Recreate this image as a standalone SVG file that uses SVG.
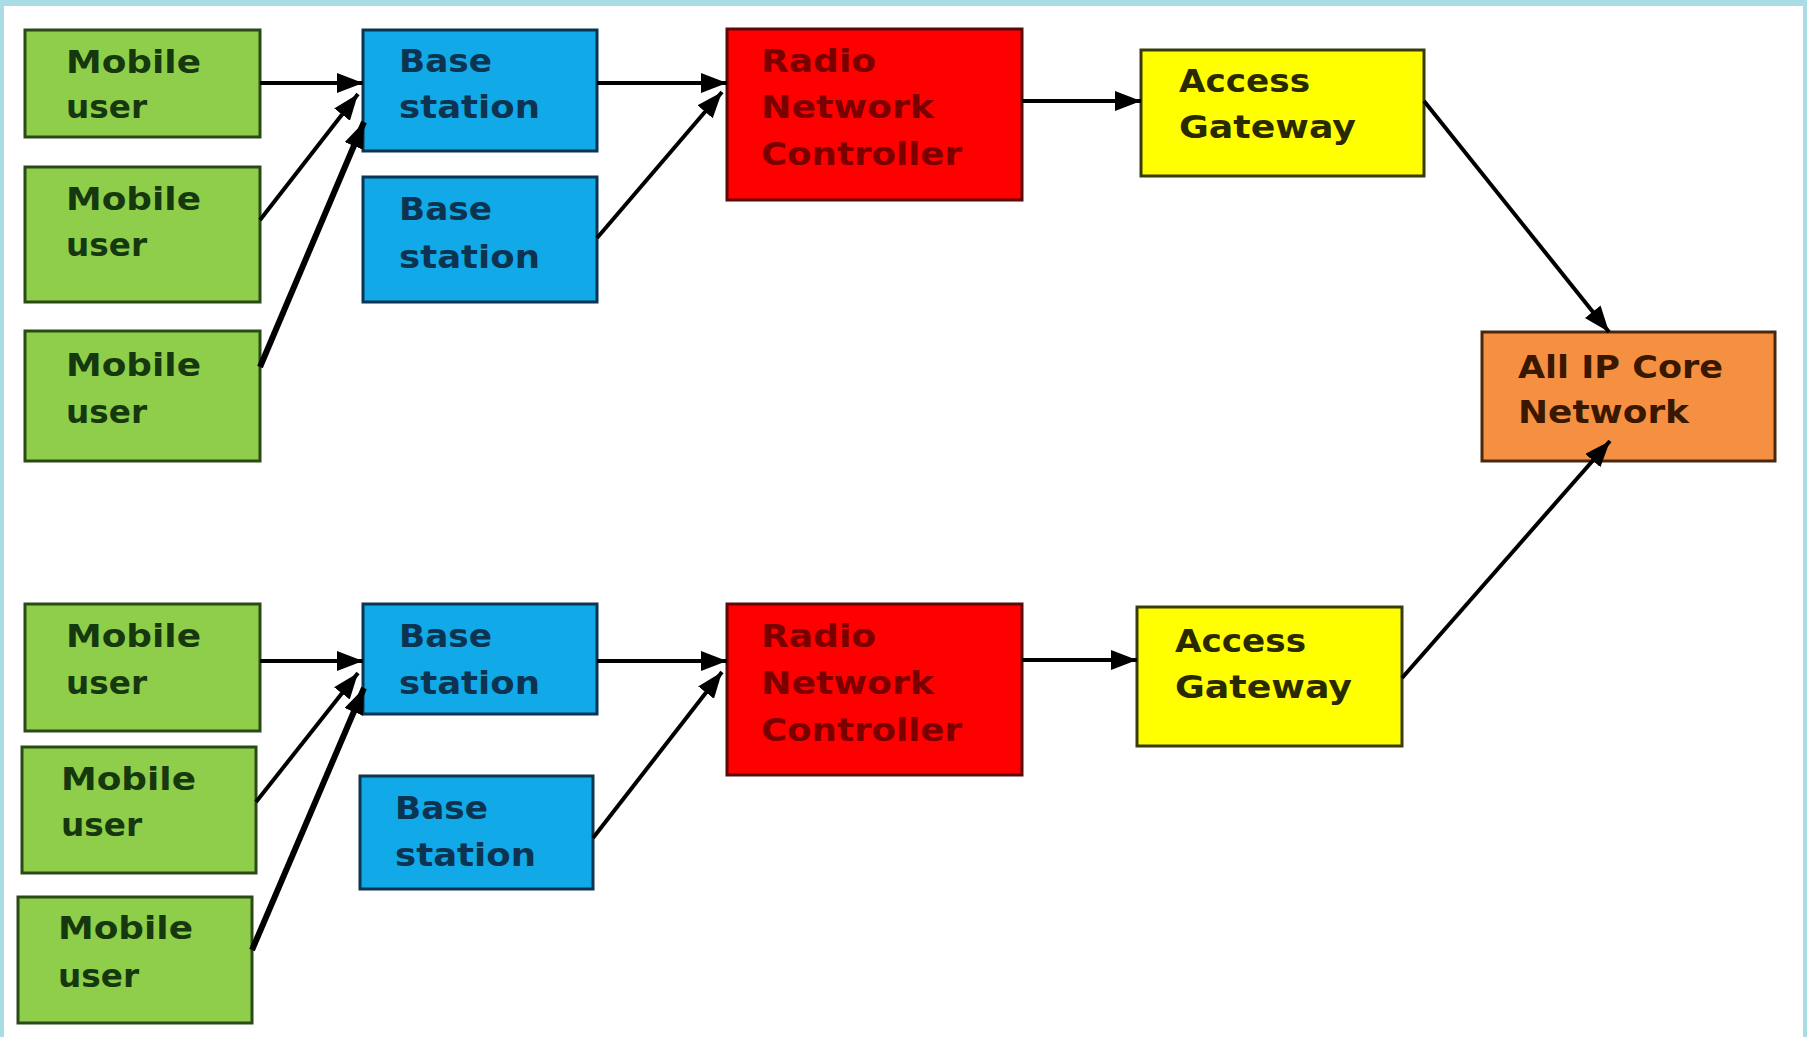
<svg xmlns="http://www.w3.org/2000/svg" width="1807" height="1037" viewBox="0 0 1807 1037">
<style>
  text { font-family: "DejaVu Sans", "Liberation Sans", sans-serif; font-weight: bold; font-size: 32px; }
  .box { stroke-width: 3; }
  .mu rect { fill: #8fce4a; stroke: #2a4a18; }
  .mu text { fill: #16380e; }
  .bs rect { fill: #12a9e8; stroke: #0b3550; }
  .bs text { fill: #0c3350; }
  .rnc rect { fill: #fe0000; stroke: #5a0a0a; }
  .rnc text { fill: #7a0000; }
  .ag rect { fill: #ffff00; stroke: #3a3a10; }
  .ag text { fill: #2a2a00; }
  .core rect { fill: #f59042; stroke: #4a2810; }
  .core text { fill: #3a1800; }
  .conn line { stroke: #000; stroke-width: 4; marker-end: url(#arrow); }
  .conn line.thick { stroke-width: 6; }
</style>
<defs>
  <marker id="arrow" markerUnits="userSpaceOnUse" markerWidth="28" markerHeight="22" refX="26" refY="10" orient="auto" viewBox="0 0 28 22">
    <path d="M0,0 L26,10 L0,20 z" fill="#000"/>
  </marker>
</defs>
<rect x="0" y="0" width="1807" height="1037" fill="#a9dde6"/>
<rect x="4" y="6" width="1799" height="1031" fill="#ffffff"/>

<g id="mu1" class="mu"><rect class="box" x="25" y="30" width="235" height="107"/>
  <text x="66" y="73" textLength="135" lengthAdjust="spacingAndGlyphs">Mobile</text>
  <text x="66" y="118" textLength="81" lengthAdjust="spacingAndGlyphs">user</text></g>
<g id="mu2" class="mu"><rect class="box" x="25" y="167" width="235" height="135"/>
  <text x="66" y="210" textLength="135" lengthAdjust="spacingAndGlyphs">Mobile</text>
  <text x="66" y="256" textLength="81" lengthAdjust="spacingAndGlyphs">user</text></g>
<g id="mu3" class="mu"><rect class="box" x="25" y="331" width="235" height="130"/>
  <text x="66" y="376" textLength="135" lengthAdjust="spacingAndGlyphs">Mobile</text>
  <text x="66" y="423" textLength="81" lengthAdjust="spacingAndGlyphs">user</text></g>

<g id="bs1" class="bs"><rect class="box" x="363" y="30" width="234" height="121"/>
  <text x="399" y="72" textLength="93" lengthAdjust="spacingAndGlyphs">Base</text>
  <text x="399" y="118" textLength="141" lengthAdjust="spacingAndGlyphs">station</text></g>
<g id="bs2" class="bs"><rect class="box" x="363" y="177" width="234" height="125"/>
  <text x="399" y="220" textLength="93" lengthAdjust="spacingAndGlyphs">Base</text>
  <text x="399" y="268" textLength="141" lengthAdjust="spacingAndGlyphs">station</text></g>

<g id="rnc1" class="rnc"><rect class="box" x="727" y="29" width="295" height="171"/>
  <text x="761" y="72" textLength="115" lengthAdjust="spacingAndGlyphs">Radio</text>
  <text x="761" y="118" textLength="173" lengthAdjust="spacingAndGlyphs">Network</text>
  <text x="761" y="165" textLength="201" lengthAdjust="spacingAndGlyphs">Controller</text></g>

<g id="ag1" class="ag"><rect class="box" x="1141" y="50" width="283" height="126"/>
  <text x="1179" y="92" textLength="131" lengthAdjust="spacingAndGlyphs">Access</text>
  <text x="1179" y="138" textLength="177" lengthAdjust="spacingAndGlyphs">Gateway</text></g>

<g id="core" class="core"><rect class="box" x="1482" y="332" width="293" height="129"/>
  <text x="1518" y="378" textLength="205" lengthAdjust="spacingAndGlyphs">All IP Core</text>
  <text x="1518" y="423" textLength="171" lengthAdjust="spacingAndGlyphs">Network</text></g>

<g id="mu4" class="mu"><rect class="box" x="25" y="604" width="235" height="127"/>
  <text x="66" y="647" textLength="135" lengthAdjust="spacingAndGlyphs">Mobile</text>
  <text x="66" y="694" textLength="81" lengthAdjust="spacingAndGlyphs">user</text></g>
<g id="mu5" class="mu"><rect class="box" x="22" y="747" width="234" height="126"/>
  <text x="61" y="790" textLength="135" lengthAdjust="spacingAndGlyphs">Mobile</text>
  <text x="61" y="836" textLength="81" lengthAdjust="spacingAndGlyphs">user</text></g>
<g id="mu6" class="mu"><rect class="box" x="18" y="897" width="234" height="126"/>
  <text x="58" y="939" textLength="135" lengthAdjust="spacingAndGlyphs">Mobile</text>
  <text x="58" y="987" textLength="81" lengthAdjust="spacingAndGlyphs">user</text></g>

<g id="bs3" class="bs"><rect class="box" x="363" y="604" width="234" height="110"/>
  <text x="399" y="647" textLength="93" lengthAdjust="spacingAndGlyphs">Base</text>
  <text x="399" y="694" textLength="141" lengthAdjust="spacingAndGlyphs">station</text></g>
<g id="bs4" class="bs"><rect class="box" x="360" y="776" width="233" height="113"/>
  <text x="395" y="819" textLength="93" lengthAdjust="spacingAndGlyphs">Base</text>
  <text x="395" y="866" textLength="141" lengthAdjust="spacingAndGlyphs">station</text></g>

<g id="rnc2" class="rnc"><rect class="box" x="727" y="604" width="295" height="171"/>
  <text x="761" y="647" textLength="115" lengthAdjust="spacingAndGlyphs">Radio</text>
  <text x="761" y="694" textLength="173" lengthAdjust="spacingAndGlyphs">Network</text>
  <text x="761" y="741" textLength="201" lengthAdjust="spacingAndGlyphs">Controller</text></g>

<g id="ag2" class="ag"><rect class="box" x="1137" y="607" width="265" height="139"/>
  <text x="1175" y="652" textLength="131" lengthAdjust="spacingAndGlyphs">Access</text>
  <text x="1175" y="698" textLength="177" lengthAdjust="spacingAndGlyphs">Gateway</text></g>

<g id="connectors" class="conn">
  <line x1="260" y1="83" x2="363" y2="83"/>
  <line x1="260" y1="220" x2="358" y2="94"/>
  <line class="thick" x1="260" y1="367" x2="364" y2="122"/>
  <line x1="597" y1="83" x2="727" y2="83"/>
  <line x1="597" y1="238" x2="722" y2="92"/>
  <line x1="1022" y1="101" x2="1141" y2="101"/>
  <line x1="1424" y1="101" x2="1609" y2="332"/>
  <line x1="1402" y1="678" x2="1610" y2="441"/>
  <line x1="260" y1="661" x2="363" y2="661"/>
  <line x1="256" y1="802" x2="358" y2="673"/>
  <line class="thick" x1="252" y1="950" x2="364" y2="688"/>
  <line x1="597" y1="661" x2="727" y2="661"/>
  <line x1="593" y1="838" x2="722" y2="672"/>
  <line x1="1022" y1="660" x2="1137" y2="660"/>
</g>
</svg>
